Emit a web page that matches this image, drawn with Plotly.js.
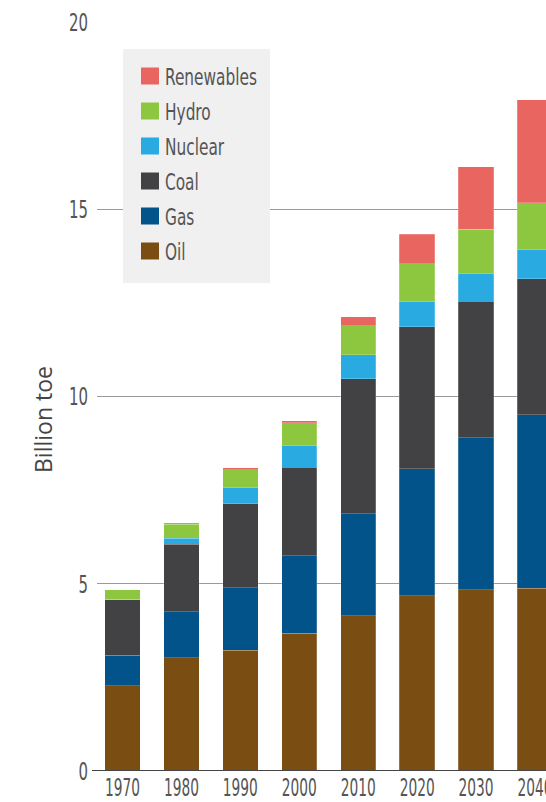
<!DOCTYPE html>
<html>
<head>
<meta charset="utf-8">
<script src="https://cdn.plot.ly/plotly-3.0.1.min.js"></script>
<style>html,body{margin:0;padding:0;background:#fff;}#chart{width:546px;height:802px;}</style>
</head>
<body>
<div id="chart"></div>
<script>
const years = [1970, 1980, 1990, 2000, 2010, 2020, 2030, 2040];
const oil        = [2.27, 3.02, 3.22, 3.68, 4.14, 4.68, 4.84, 4.88];
const gas        = [0.82, 1.23, 1.68, 2.07, 2.73, 3.39, 4.06, 4.63];
const coal       = [1.48, 1.80, 2.23, 2.36, 3.61, 3.79, 3.65, 3.64];
const nuclear    = [0.02, 0.17, 0.44, 0.58, 0.63, 0.68, 0.74, 0.77];
const hydro      = [0.25, 0.37, 0.48, 0.61, 0.78, 1.00, 1.18, 1.25];
const renewables = [0.00, 0.02, 0.05, 0.05, 0.24, 0.79, 1.66, 2.75];
const seriesNames = ["Oil", "Gas", "Coal", "Nuclear", "Hydro", "Renewables"];
const seriesValues = [oil, gas, coal, nuclear, hydro, renewables];
const seriesColors = ["#7a4e12", "#02538a", "#424244", "#29abe2", "#8dc63f", "#e8665f"];
const yTicks = [0, 5, 10, 15, 20];

const FONT = "'DejaVu Sans Condensed', 'DejaVu Sans', sans-serif";

const traces = seriesNames.map((name, i) => ({
  type: "bar",
  name: name,
  x: years,
  y: seriesValues[i],
  width: 6,
  marker: {color: seriesColors[i], line: {color: "rgba(255,255,255,0.35)", width: 0.6}},
  hoverinfo: "x+y+name"
}));

// plot area in pixels
const W = 546, H = 802, ML = 97, MR = 0, MT = 22, MB = 31;
const PW = W - ML - MR, PH = H - MT - MB;
const px = x => (x - ML) / PW;
const py = y => (H - MB - y) / PH;

const shapes = [{
  type: "rect", xref: "paper", yref: "paper",
  x0: px(123), x1: px(270), y0: py(283), y1: py(49),
  fillcolor: "#f0f0f0", line: {width: 0}, layer: "above"
}, {
  // baseline (x axis line), slightly extending left of the plot area as in the reference
  type: "line", xref: "paper", yref: "y",
  x0: px(92), x1: 1, y0: 0, y1: 0,
  line: {color: "#444", width: 2.2}, layer: "above"
}];
const annotations = [];
for (let k = 0; k < seriesNames.length; k++) {
  const i = seriesNames.length - 1 - k;
  const cy = 76 + 35 * k;
  shapes.push({
    type: "rect", xref: "paper", yref: "paper",
    x0: px(141), x1: px(159), y0: py(cy + 8.5), y1: py(cy - 8.5),
    fillcolor: seriesColors[i], line: {width: 0}, layer: "above"
  });
  annotations.push({
    xref: "paper", yref: "paper", x: px(163), y: py(cy + 1),
    xanchor: "left", yanchor: "middle", showarrow: false,
    text: seriesNames[i], font: {family: FONT, size: 23, color: "#555"},
    name: "legend-label"
  });
}
annotations.push({
  xref: "paper", yref: "paper", x: px(43), y: py(420),
  xanchor: "center", yanchor: "middle", showarrow: false, textangle: -90,
  text: "Billion toe", font: {family: "'Open Sans', sans-serif", size: 23, color: "#444"}
});

const layout = {
  width: W, height: H,
  margin: {l: ML, r: MR, t: MT, b: MB, pad: 0},
  paper_bgcolor: "#fff", plot_bgcolor: "#fff",
  barmode: "stack",
  showlegend: false,
  font: {family: FONT, color: "#555"},
  xaxis: {
    range: [1965.67, 2041.87],
    tickmode: "array", tickvals: years, ticktext: years.map(String),
    tickangle: 0,
    showgrid: false, zeroline: false, showline: false,
    ticks: "", ticklabelstandoff: 0, ticklabeloverflow: "allow",
    tickfont: {family: FONT, size: 24, color: "#555"},
    fixedrange: true
  },
  yaxis: {
    range: [0, 20],
    tickmode: "array", tickvals: yTicks,
    showgrid: true, gridcolor: "#9a9a9a", gridwidth: 1,
    zeroline: false, showline: false,
    ticks: "", ticklabelstandoff: 8,
    tickfont: {family: FONT, size: 25, color: "#555"},
    fixedrange: true
  },
  shapes: shapes,
  annotations: annotations
};

Plotly.newPlot("chart", traces, layout, {displayModeBar: false, staticPlot: true}).then(gd => {
  // the reference uses a narrow typeface: compress the glyphs horizontally
  const squeeze = (t, f, keepLeft) => {
    const L = t.getComputedTextLength();
    if (!(L > 0)) return;
    const bb = t.getBBox();
    t.setAttribute("textLength", (L * f).toFixed(1));
    t.setAttribute("lengthAdjust", "spacingAndGlyphs");
    if (keepLeft) {
      t.setAttribute("text-anchor", "start");
      t.setAttribute("x", bb.x.toFixed(1));
      t.querySelectorAll("tspan").forEach(s => { if (s.hasAttribute("x")) s.setAttribute("x", bb.x.toFixed(1)); });
    }
  };
  const xt = Array.from(gd.querySelectorAll(".xtick text"));
  const ref = xt.find(t => t.textContent === "1970");
  const fX = ref ? 35 / ref.getComputedTextLength() : 0.7;
  xt.forEach(t => squeeze(t, fX, false));
  const yt = Array.from(gd.querySelectorAll(".ytick text"));
  const refY = yt.find(t => t.textContent === "20");
  const fY = refY ? 19 / refY.getComputedTextLength() : 0.7;
  yt.forEach(t => squeeze(t, fY, false));
  const legendTexts = Array.from(gd.querySelectorAll(".annotation-text")).filter(t => seriesNames.includes(t.textContent));
  const refL = legendTexts.find(t => t.textContent === "Renewables");
  const fLeg = refL ? 92 / refL.getComputedTextLength() : 0.8;
  legendTexts.forEach(t => squeeze(t, fLeg, true));
});
</script>
</body>
</html>
